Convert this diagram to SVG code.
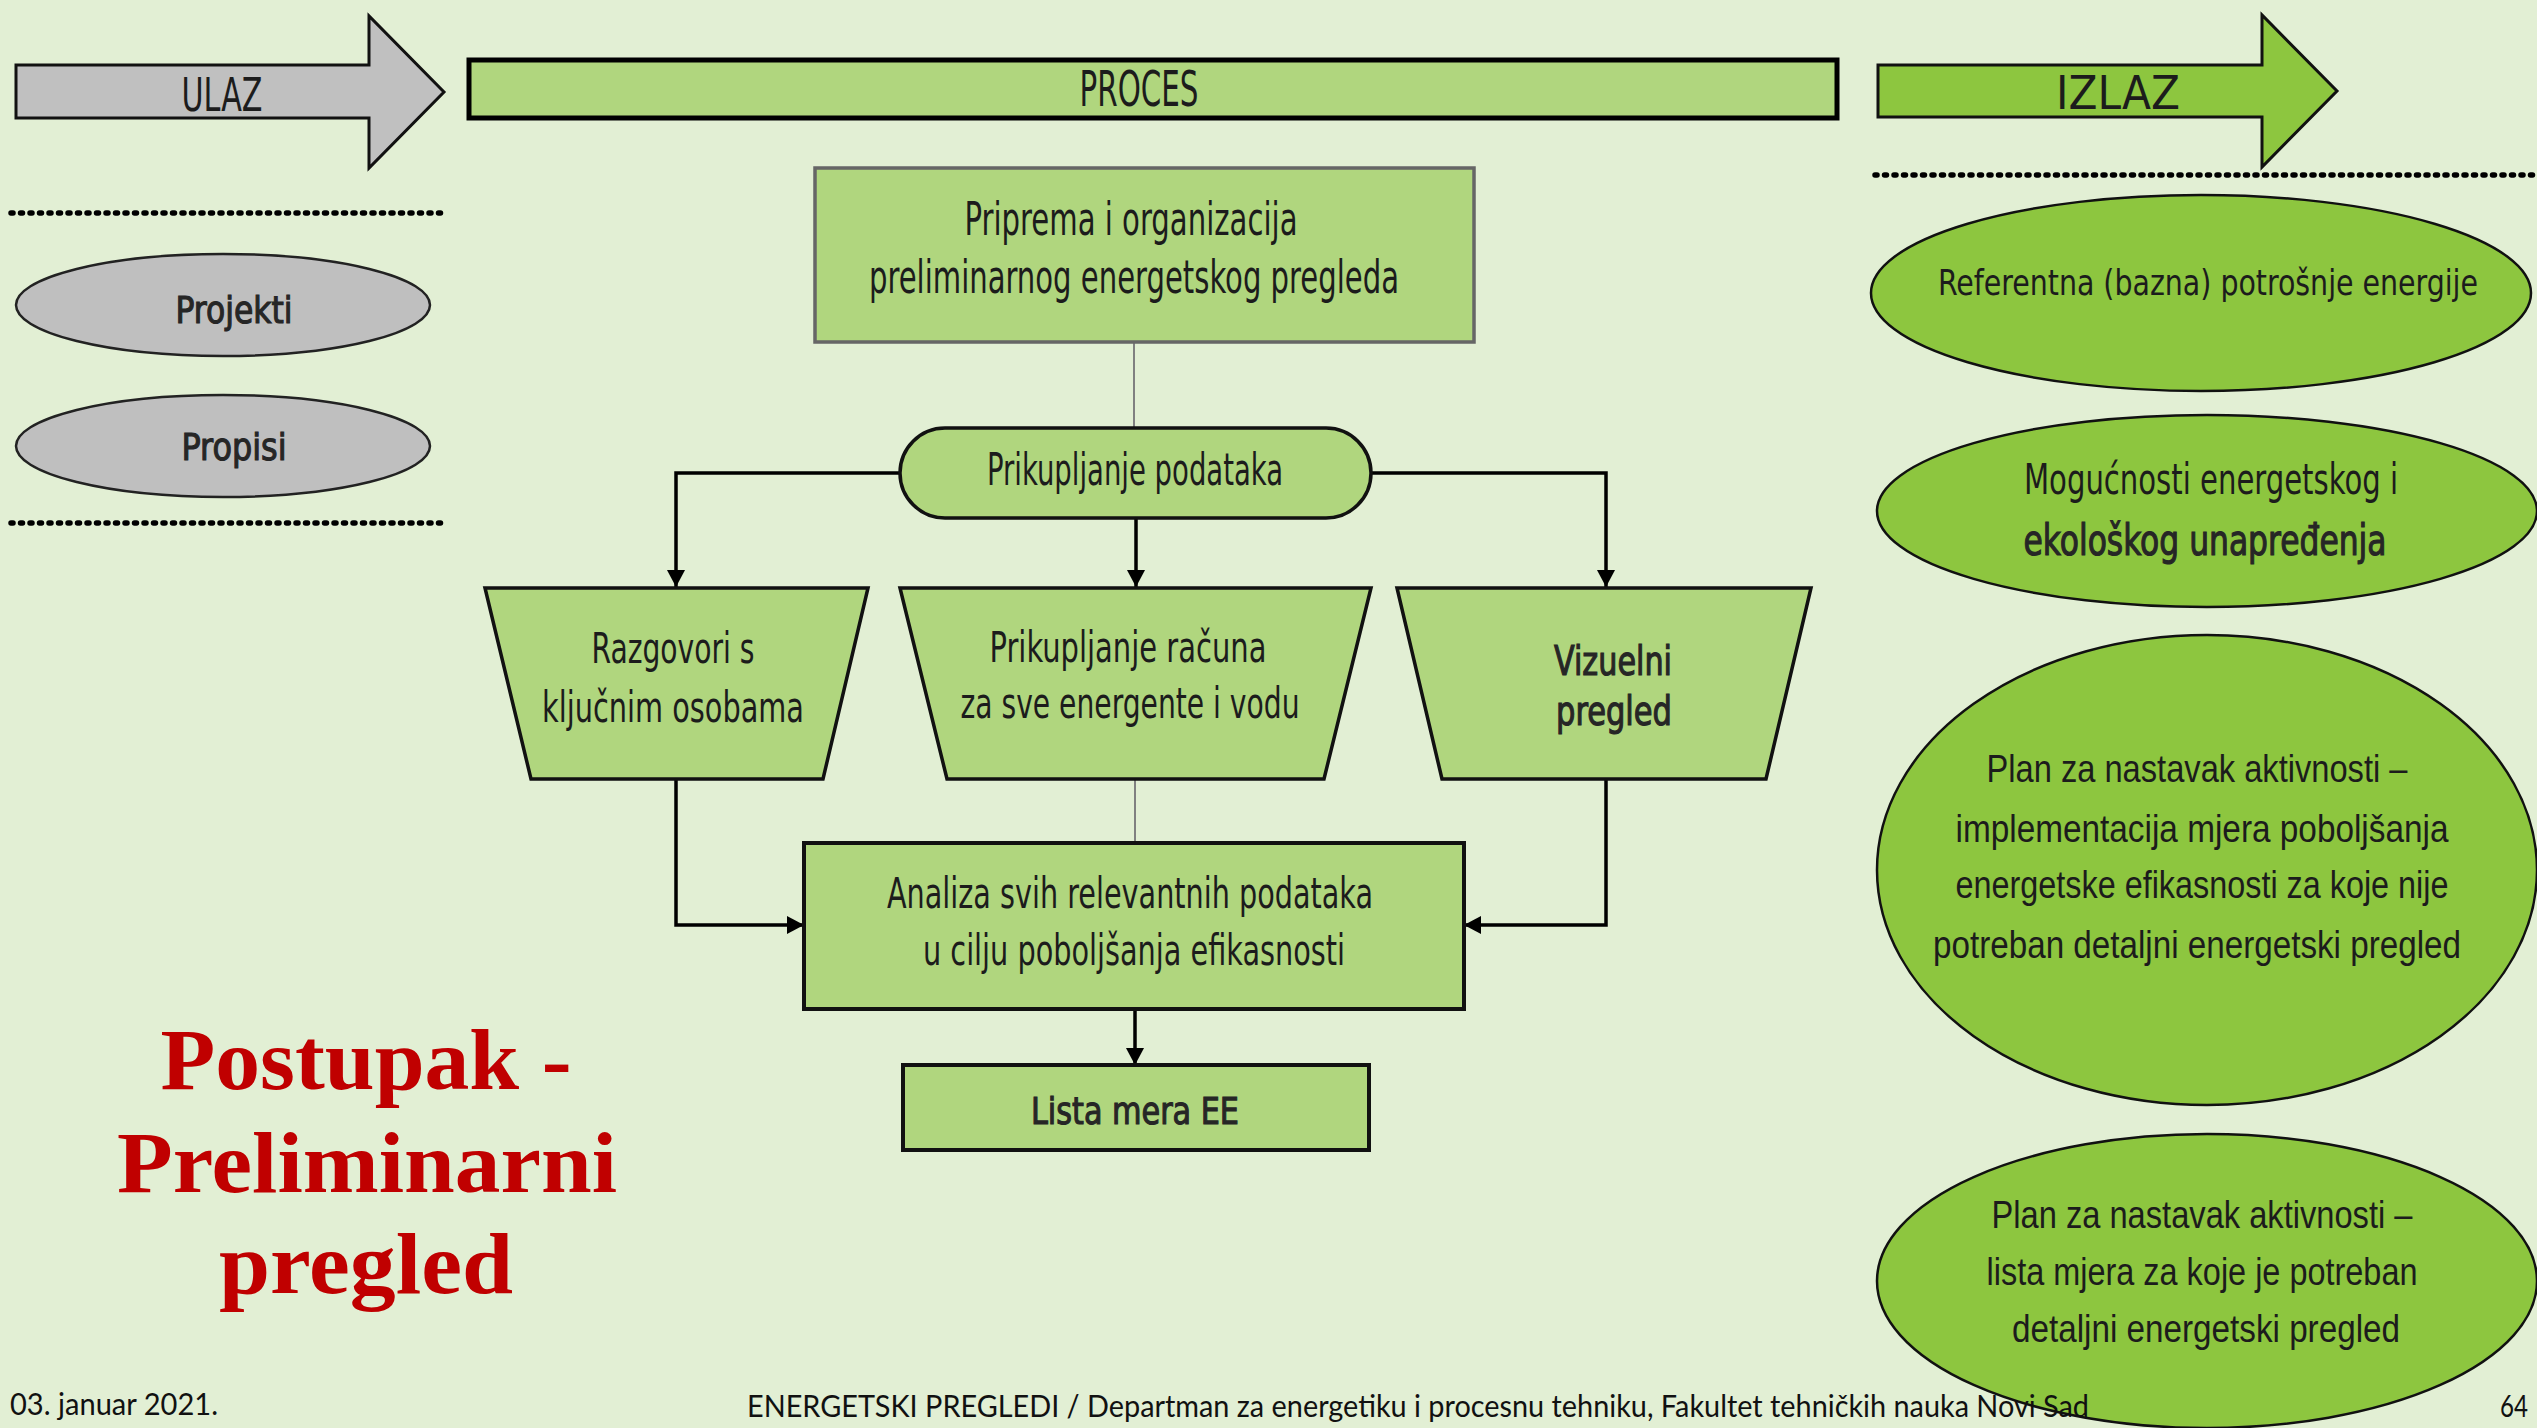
<svg xmlns="http://www.w3.org/2000/svg" width="2537" height="1428" viewBox="0 0 2537 1428">
<defs>
<style>
.bg{fill:#e2efd4}
.cond{font-family:"Liberation Sans Narrow","DejaVu Sans Condensed","Liberation Sans",sans-serif;fill:#1c1c1c;text-anchor:middle}
.condb{font-family:"Liberation Sans Narrow","DejaVu Sans Condensed","Liberation Sans",sans-serif;fill:#262626;stroke:#262626;stroke-width:1.1;text-anchor:middle}
.hum{font-family:"Liberation Sans",Arial,sans-serif;fill:#1c1c1c;text-anchor:middle}
.proc{fill:#b0d67e;stroke:#111;stroke-width:3.5}
.out{fill:#8dc63f;stroke:#111;stroke-width:2.5}
.inp{fill:#bfbfbf;stroke:#222;stroke-width:2.5}
.dots{stroke:#000;stroke-width:5.5;stroke-linecap:round;stroke-dasharray:2 7.5;fill:none}
.conn{fill:none;stroke:#000;stroke-width:3.5}
.gray{fill:none;stroke:#808080;stroke-width:2}
.title{font-family:"Liberation Serif",serif;font-weight:bold;fill:#c00000;text-anchor:middle;font-size:86px}
.foot{font-family:Lato,"Liberation Sans",sans-serif;fill:#111;font-size:31px}
</style>
<marker id="ah" markerUnits="userSpaceOnUse" markerWidth="18" markerHeight="18" refX="17" refY="9" orient="auto">
<path d="M0,0 L17,9 L0,18 z" fill="#000"/>
</marker>
</defs>
<rect class="bg" x="0" y="0" width="2537" height="1428"/>

<g id="ulaz">
<polygon points="16,65 369,65 369,16 444,92 369,168 369,118 16,118" fill="#c0c0c0" stroke="#111" stroke-width="3"/>
<text class="cond" x="222" y="111" font-size="46" textLength="81" lengthAdjust="spacingAndGlyphs" fill="#1b2a44">ULAZ</text>
</g>
<g id="proces">
<rect x="469" y="60" width="1368" height="58" fill="#b0d67e" stroke="#000" stroke-width="5"/>
<text class="cond" x="1139" y="106" font-size="50" textLength="119" lengthAdjust="spacingAndGlyphs">PROCES</text>
</g>
<g id="izlaz">
<polygon points="1878,65 2262,65 2262,15 2337,91 2262,167 2262,117 1878,117" fill="#8dc63f" stroke="#111" stroke-width="3"/>
<text class="cond" x="2118" y="109" font-size="47" textLength="124" lengthAdjust="spacingAndGlyphs">IZLAZ</text>
</g>

<g id="separators">
<line class="dots" x1="11" y1="213" x2="446" y2="213"/>
<line class="dots" x1="11" y1="523" x2="446" y2="523"/>
<line class="dots" x1="1875" y1="175" x2="2537" y2="175"/>
</g>

<g id="projekti">
<ellipse class="inp" cx="223" cy="305" rx="207" ry="51"/>
<text class="condb" x="234" y="323" font-size="38" textLength="117" lengthAdjust="spacingAndGlyphs">Projekti</text>
</g>
<g id="propisi">
<ellipse class="inp" cx="223" cy="446" rx="207" ry="51"/>
<text class="condb" x="234" y="460" font-size="38" textLength="105" lengthAdjust="spacingAndGlyphs">Propisi</text>
</g>

<g id="connectors">
<line class="gray" x1="1134" y1="342" x2="1134" y2="428"/>
<path class="conn" d="M900,473 H676 V587" marker-end="url(#ah)"/>
<path class="conn" d="M1136,518 V587" marker-end="url(#ah)"/>
<path class="conn" d="M1371,473 H1606 V587" marker-end="url(#ah)"/>
<path class="conn" d="M676,779 V925 H804" marker-end="url(#ah)"/>
<line class="gray" x1="1135" y1="779" x2="1135" y2="842"/>
<path class="conn" d="M1606,779 V925 H1464" marker-end="url(#ah)"/>
<path class="conn" d="M1135,1009 V1065" marker-end="url(#ah)"/>
</g>

<g id="priprema">
<rect x="815" y="168" width="659" height="174" fill="#b0d67e" stroke="#666" stroke-width="3.5"/>
<text class="cond" x="1131" y="235" font-size="46" textLength="333" lengthAdjust="spacingAndGlyphs">Priprema i organizacija</text>
<text class="cond" x="1134" y="293" font-size="46" textLength="530" lengthAdjust="spacingAndGlyphs">preliminarnog energetskog pregleda</text>
</g>
<g id="prikupljanje">
<rect class="proc" x="900" y="428" width="471" height="90" rx="45" ry="45"/>
<text class="cond" x="1135" y="485" font-size="44" textLength="296" lengthAdjust="spacingAndGlyphs">Prikupljanje podataka</text>
</g>
<g id="razgovori">
<polygon class="proc" points="485,588 868,588 823,779 531,779"/>
<text class="cond" x="673" y="663" font-size="43" textLength="163" lengthAdjust="spacingAndGlyphs">Razgovori s</text>
<text class="cond" x="673" y="722" font-size="43" textLength="262" lengthAdjust="spacingAndGlyphs">ključnim osobama</text>
</g>
<g id="racuni">
<polygon class="proc" points="900,588 1371,588 1324,779 947,779"/>
<text class="cond" x="1128" y="662" font-size="43" textLength="277" lengthAdjust="spacingAndGlyphs">Prikupljanje računa</text>
<text class="cond" x="1130" y="718" font-size="43" textLength="339" lengthAdjust="spacingAndGlyphs">za sve energente i vodu</text>
</g>
<g id="vizuelni">
<polygon class="proc" points="1397,588 1811,588 1766,779 1442,779"/>
<text class="condb" x="1613" y="675" font-size="40" textLength="118" lengthAdjust="spacingAndGlyphs">Vizuelni</text>
<text class="condb" x="1614" y="725" font-size="40" textLength="116" lengthAdjust="spacingAndGlyphs">pregled</text>
</g>
<g id="analiza">
<rect x="804" y="843" width="660" height="166" fill="#b0d67e" stroke="#111" stroke-width="4"/>
<text class="cond" x="1130" y="908" font-size="42" textLength="486" lengthAdjust="spacingAndGlyphs">Analiza svih relevantnih podataka</text>
<text class="cond" x="1134" y="965" font-size="42" textLength="422" lengthAdjust="spacingAndGlyphs">u cilju poboljšanja efikasnosti</text>
</g>
<g id="lista">
<rect x="903" y="1065" width="466" height="85" fill="#b0d67e" stroke="#111" stroke-width="4"/>
<text class="condb" x="1135" y="1124" font-size="38" textLength="208" lengthAdjust="spacingAndGlyphs">Lista mera EE</text>
</g>

<g id="referentna">
<ellipse class="out" cx="2201" cy="293" rx="330" ry="98"/>
<text class="cond" x="2208" y="295" font-size="36" textLength="540" lengthAdjust="spacingAndGlyphs">Referentna (bazna) potrošnje energije</text>
</g>
<g id="mogucnosti">
<ellipse class="out" cx="2207" cy="511" rx="330" ry="96"/>
<text class="cond" x="2211" y="494" font-size="42" textLength="374" lengthAdjust="spacingAndGlyphs">Mogućnosti energetskog i</text>
<text class="condb" x="2205" y="555" font-size="42" textLength="363" lengthAdjust="spacingAndGlyphs">ekološkog unapređenja</text>
</g>
<g id="plan1">
<ellipse class="out" cx="2207" cy="870" rx="330" ry="235"/>
<text class="hum" x="2197" y="782" font-size="38" textLength="421" lengthAdjust="spacingAndGlyphs">Plan za nastavak aktivnosti –</text>
<text class="hum" x="2202" y="842" font-size="38" textLength="493" lengthAdjust="spacingAndGlyphs">implementacija mjera poboljšanja</text>
<text class="hum" x="2202" y="898" font-size="38" textLength="493" lengthAdjust="spacingAndGlyphs">energetske efikasnosti za koje nije</text>
<text class="hum" x="2197" y="958" font-size="38" textLength="528" lengthAdjust="spacingAndGlyphs">potreban detaljni energetski pregled</text>
</g>
<g id="plan2">
<ellipse class="out" cx="2207" cy="1281" rx="330" ry="147"/>
<text class="hum" x="2202" y="1228" font-size="38" textLength="421" lengthAdjust="spacingAndGlyphs">Plan za nastavak aktivnosti –</text>
<text class="hum" x="2202" y="1285" font-size="38" textLength="431" lengthAdjust="spacingAndGlyphs">lista mjera za koje je potreban</text>
<text class="hum" x="2206" y="1342" font-size="38" textLength="388" lengthAdjust="spacingAndGlyphs">detaljni energetski pregled</text>
</g>

<g id="title">
<text class="title" x="366" y="1089" textLength="411" lengthAdjust="spacingAndGlyphs">Postupak -</text>
<text class="title" x="367" y="1192" textLength="500" lengthAdjust="spacingAndGlyphs">Preliminarni</text>
<text class="title" x="366" y="1293" textLength="294" lengthAdjust="spacingAndGlyphs">pregled</text>
</g>

<g id="footer">
<text class="foot" x="10" y="1415" textLength="208" lengthAdjust="spacingAndGlyphs">03. januar 2021.</text>
<text class="foot" x="747" y="1417" textLength="1342" lengthAdjust="spacingAndGlyphs">ENERGETSKI PREGLEDI / Departman za energetiku i procesnu tehniku, Fakultet tehničkih nauka Novi Sad</text>
<text class="foot" x="2500" y="1417" textLength="28" lengthAdjust="spacingAndGlyphs">64</text>
</g>
</svg>
